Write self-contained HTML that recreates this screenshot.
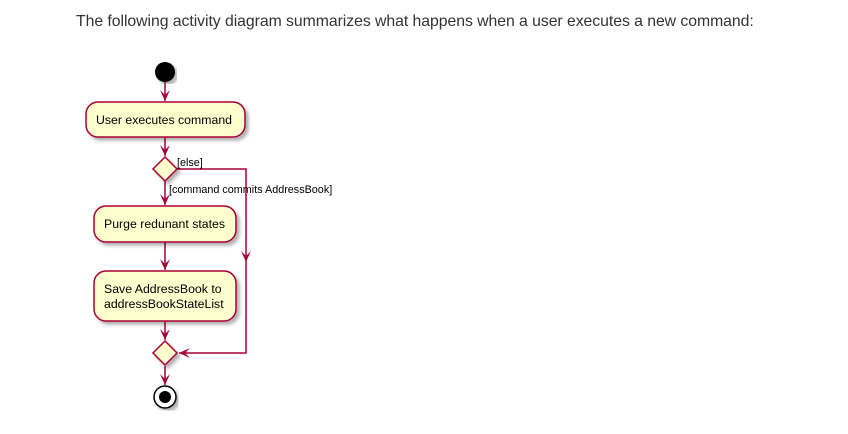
<!DOCTYPE html>
<html><head><meta charset="utf-8"><style>
body{margin:0;width:848px;height:434px;background:#fff;overflow:hidden}
p{position:absolute;left:76px;top:13px;margin:0;font:15.8px "Liberation Sans",sans-serif;color:#333;letter-spacing:-0.05px}
svg{position:absolute;left:0;top:0}
</style></head><body>
<p>The following activity diagram summarizes what happens when a user executes a new command:</p>
<svg width="848" height="434" font-family="Liberation Sans, sans-serif">
<defs><filter id="s"><feDropShadow dx="3" dy="3" stdDeviation="1.5" flood-color="#000" flood-opacity="0.3"/></filter></defs>
<g stroke="#A80036" stroke-width="1.5" fill="none">
<line x1="165" y1="82" x2="165" y2="101"/>
<line x1="165" y1="137" x2="165" y2="156"/>
<line x1="165" y1="181" x2="165" y2="205"/>
<line x1="165" y1="242" x2="165" y2="270"/>
<line x1="165" y1="321" x2="165" y2="340"/>
<line x1="165" y1="366" x2="165" y2="385"/>
<polyline points="177,169 246,169 246,353 179,353"/>
</g>
<g fill="#A80036">
<polygon points="160,90 165,101 170,90 165,95"/>
<polygon points="160,145 165,156 170,145 165,150"/>
<polygon points="160,194 165,205 170,194 165,199"/>
<polygon points="160,259 165,270 170,259 165,264"/>
<polygon points="160,329 165,340 170,329 165,334"/>
<polygon points="160,374 165,385 170,374 165,379"/>
<polygon points="241,251 246,262 251,251 246,256"/>
<polygon points="190,348 179,353 190,358 185,353"/>
</g>
<circle cx="165" cy="72" r="10" fill="#000" filter="url(#s)"/>
<g fill="#FEFECE" stroke="#A80036" stroke-width="1.5" filter="url(#s)">
<rect x="86" y="102" width="159" height="35" rx="12"/>
<rect x="94" y="206" width="142" height="36" rx="12"/>
<rect x="94" y="271" width="142" height="50" rx="12"/>
<polygon points="165,157 177,169 165,181 153,169"/>
<polygon points="165,341 177,353 165,365 153,353"/>
</g>
<circle cx="165" cy="397" r="11" fill="#fff" stroke="#000" stroke-width="1.5" filter="url(#s)"/>
<circle cx="165" cy="397" r="6" fill="#000"/>
<g font-size="12.3" fill="#000">
<text x="96" y="124">User executes command</text>
<text x="104" y="228">Purge redunant states</text>
<text x="104" y="293">Save AddressBook to</text>
<text x="104" y="308">addressBookStateList</text>
</g>
<g font-size="10.8" fill="#000">
<text x="177" y="166">[else]</text>
<text x="169" y="193">[command commits AddressBook]</text>
</g>
</svg>
</body></html>
